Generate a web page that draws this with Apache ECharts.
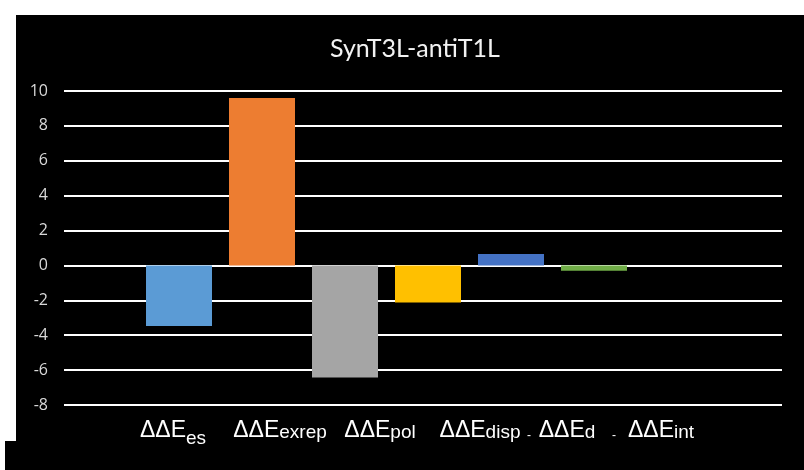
<!DOCTYPE html>
<html>
<head>
<meta charset="utf-8">
<script src="https://cdn.jsdelivr.net/npm/echarts@6/dist/echarts.min.js"></script>
<style>
  html, body { margin: 0; padding: 0; background: #ffffff; }
  #chart { width: 804px; height: 470px; }
</style>
</head>
<body>
<div id="chart"></div>
<script>
// Energy decomposition terms and their values (kcal/mol)
const titleText = 'SynT3L-antiT1L';
const termNames = ['es', 'exrep', 'pol', 'disp', 'd', 'int'];
const termValues = [-3.47, 9.6, -6.43, -2.13, 0.66, -0.3];
const barColors = ['#5B9BD5', '#ED7D31', '#A5A5A5', '#FFC000', '#4472C4', '#70AD47'];
const yTicks = { min: -8, max: 10, step: 2 };

// Where each term label sits under the plot (centre x), plus stray dashes
const labelCenters = [173, 280, 380, 480, 567, 661];
const dashCenters = [529, 614];

const chart = echarts.init(document.getElementById('chart'), null, { renderer: 'canvas' });

const labelGraphics = termNames.map((name, i) => {
  const subStyle = i === 0 ? 'subLow' : 'sub';
  return {
    type: 'text',
    x: labelCenters[i],
    y: 442,
    style: {
      text: '{big|ΔΔE}{' + subStyle + '|' + name + '}',
      fill: '#ffffff',
      align: 'center',
      verticalAlign: 'bottom',
      rich: {
        big: { fontFamily: 'Liberation Sans', fontSize: 23, fill: '#ffffff', lineHeight: 26, verticalAlign: 'bottom' },
        sub: { fontFamily: 'Liberation Sans', fontSize: 19, fill: '#ffffff', lineHeight: 26, verticalAlign: 'bottom' },
        subLow: { fontFamily: 'Liberation Sans', fontSize: 19, fill: '#ffffff', lineHeight: 26, verticalAlign: 'bottom', padding: [0, 0, -6, 0] }
      }
    }
  };
});

const dashGraphics = dashCenters.map(x => ({
  type: 'text',
  x: x,
  y: 442,
  style: { text: '-', fill: '#ffffff', font: '12px "Liberation Sans"', align: 'center', verticalAlign: 'bottom' }
}));

const option = {
  backgroundColor: '#000000',
  animation: false,
  title: {
    text: titleText,
    left: 410,
    top: 31,
    textAlign: 'center',
    textStyle: { color: '#f2f2f2', fontFamily: 'Lato', fontWeight: 'normal', fontSize: 25 }
  },
  grid: [
    { left: 64, right: 22, top: 91, bottom: 65 },
    { left: 137.5, right: 168.5, top: 91, bottom: 65 }
  ],
  xAxis: [
    { gridIndex: 0, type: 'value', min: 0, max: 1, show: false },
    { gridIndex: 1, type: 'category', data: termNames, show: false }
  ],
  yAxis: [
    {
      gridIndex: 0, type: 'value',
      min: yTicks.min, max: yTicks.max, interval: yTicks.step,
      axisLine: { show: false }, axisTick: { show: false },
      axisLabel: { color: '#d9d9d9', fontFamily: 'Open Sans', fontSize: 16, margin: 16 },
      splitLine: { lineStyle: { color: '#ffffff', width: 2 } }
    },
    {
      gridIndex: 1, type: 'value',
      min: yTicks.min, max: yTicks.max, interval: yTicks.step,
      show: false, splitLine: { show: false }
    }
  ],
  series: [{
    type: 'bar',
    xAxisIndex: 1,
    yAxisIndex: 1,
    barWidth: 66,
    data: termValues.map((v, i) => ({ value: v, itemStyle: { color: barColors[i] } }))
  }],
  graphic: [
    // white page margins around the dark panel
    { type: 'rect', shape: { x: 0, y: 0, width: 804, height: 15 }, style: { fill: '#ffffff' } },
    { type: 'rect', shape: { x: 0, y: 15, width: 16, height: 426 }, style: { fill: '#ffffff' } },
    { type: 'rect', shape: { x: 0, y: 441, width: 5, height: 29 }, style: { fill: '#ffffff' } }
  ].concat(labelGraphics, dashGraphics)
};

chart.setOption(option);
</script>
</body>
</html>
